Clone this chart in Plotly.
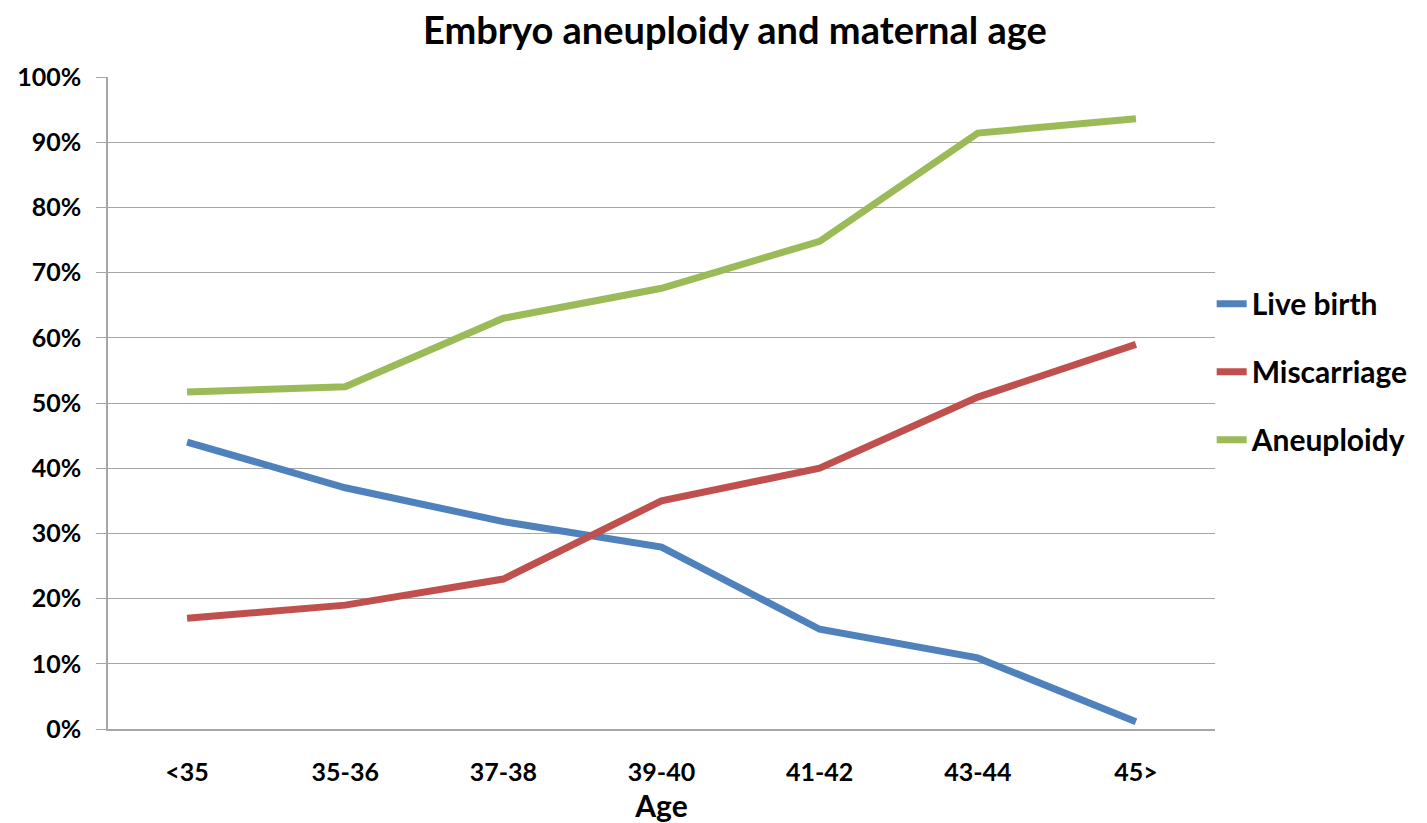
import plotly.graph_objects as go

categories = ["<35", "35-36", "37-38", "39-40", "41-42", "43-44", "45>"]
live_birth = [44.0, 37.0, 31.8, 27.9, 15.3, 10.9, 1.1]
miscarriage = [17.0, 19.0, 23.0, 35.0, 40.0, 50.9, 59.0]
aneuploidy = [51.7, 52.5, 63.0, 67.6, 74.8, 91.4, 93.6]
y_ticks = [0, 10, 20, 30, 40, 50, 60, 70, 80, 90, 100]
y_tick_labels = [f"{v}%" for v in y_ticks]

FONT = "Lato"
series = [
    ("Live birth", live_birth, "#4F81BD"),
    ("Miscarriage", miscarriage, "#C0504D"),
    ("Aneuploidy", aneuploidy, "#9BBB59"),
]

fig = go.Figure()
for i, (name, vals, color) in enumerate(series):
    fig.add_trace(go.Scatter(
        x=list(range(len(categories))), y=vals, name=name, mode="lines",
        line=dict(color=color, width=7), legendgroup=f"g{i}",
    ))

fig.update_layout(
    width=1427, height=823,
    margin=dict(l=108, r=212, t=77, b=94),
    paper_bgcolor="white", plot_bgcolor="white",
    title=dict(text="<b>Embryo aneuploidy and maternal age</b>", x=0.515, xanchor="center",
               y=0.963, yanchor="middle", font=dict(family=FONT, size=38, color="black")),
    font=dict(family=FONT, color="black"),
    showlegend=True,
    legend=dict(x=0.997, xanchor="left", y=0.548, yanchor="middle",
                font=dict(family=FONT, size=30, color="black", weight="bold"),
                traceorder="grouped", tracegroupgap=26, bgcolor="rgba(0,0,0,0)",
                itemwidth=30),
    xaxis=dict(
        tickmode="array", tickvals=list(range(len(categories))), ticktext=categories,
        range=[-0.5, len(categories) - 0.5], automargin=False,
        showgrid=False, showline=True, linecolor="#A6A6A6", linewidth=1.5,
        ticks="", tickfont=dict(family=FONT, size=25, color="black", weight="bold"),
        ticklabelstandoff=20,
        title=dict(text="<b>Age</b>", font=dict(family=FONT, size=30, color="black"), standoff=16),
        zeroline=False,
    ),
    yaxis=dict(
        range=[0, 100], tickmode="array", tickvals=y_ticks, ticktext=y_tick_labels,
        automargin=False,
        showgrid=True, gridcolor="#A6A6A6", gridwidth=1,
        showline=True, linecolor="#A6A6A6", linewidth=1.5,
        ticks="outside", ticklen=10, tickcolor="#A6A6A6",
        tickfont=dict(family=FONT, size=25, color="black", weight="bold"),
        ticklabelstandoff=10,
        zeroline=False,
    ),
)

fig.write_html("out.html")
